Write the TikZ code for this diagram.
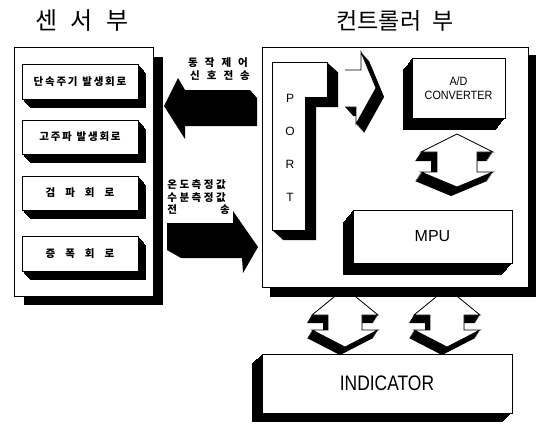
\documentclass[tikz,border=0pt]{standalone}
\usepackage{graphicx}
\usepackage{fontspec}
\setmainfont{Liberation Sans}
\newfontfamily\kr{Noto Sans CJK KR}
\newcommand\extrude[3]{\foreach \t in {0,0.05,...,1.001}{\fill[black,shift={({\t*(#1)},{\t*(#2)})}] #3;}}
\newcommand\tbox[9]{\extrude{#6}{#7}{(#2,#3) rectangle (#4,#5)}%
  \node[face,font=#8,minimum width={(#4)-(#2)},minimum height={(#5)-(#3)}] (#1) at ({((#2)+(#4))/2},{((#3)+(#5))/2}) {#9};}
\newcommand\dblarrow[9]{%
  \def\dapath{({#1},{#2}) -- ({#1+#4},{#2+#6}) -- ({#1+#5},{#2+#6}) -- ({#1+#5},{#3-#7}) -- ({#1+#4},{#3-#7}) -- ({#1},{#3}) -- ({#1-#4},{#3-#7}) -- ({#1-#5},{#3-#7}) -- ({#1-#5},{#2+#6}) -- ({#1-#4},{#2+#6}) -- cycle}%
  \extrude{#8}{#9}{\dapath}%
  \draw[fill=white,line width=0.8pt] \dapath;}
\begin{document}
\begin{tikzpicture}[x=1pt,y=-1pt,line width=0.8pt,
  face/.style={draw=black,fill=white,line width=0.8pt,inner sep=0pt,align=center},
  lbl/.style={inner sep=0pt,font=\kr\bfseries\fontsize{10.5}{12}\selectfont},
  portl/.style={inner sep=0pt,font=\fontsize{12}{12}\selectfont}]
\useasboundingbox (0,0) rectangle (537,423);
% titles
\node[font=\kr\fontsize{24}{24}\selectfont] (t1) at (82,21) {센\hspace{13pt}서\hspace{13pt}부};
\node[font=\kr\fontsize{23}{23}\selectfont] (t2) at (395,21) {컨트롤러\hspace{11pt}부};
% sensor box
\fill (24,57) rectangle (163,305);
\node[face,minimum width=139,minimum height=249] (sensor) at (83.5,171.5) {};
\tbox{b1}{22}{64}{138}{99}{8}{9}{\kr\bfseries\fontsize{10.5}{12}\selectfont}{단\,속\,주\,기\ \ 발\,생\,회\,로}
\tbox{b2}{22}{120}{138}{154}{8}{9}{\kr\bfseries\fontsize{10.5}{12}\selectfont}{고\,주\,파\ \ 발\,생\,회\,로}
\tbox{b3}{22}{176}{138}{210}{8}{9}{\kr\bfseries\fontsize{10.5}{12}\selectfont}{검\hspace{10pt}파\hspace{10pt}회\hspace{10pt}로}
\tbox{b4}{22}{236}{138}{271}{8}{9}{\kr\bfseries\fontsize{10.5}{12}\selectfont}{증\hspace{10pt}폭\hspace{10pt}회\hspace{10pt}로}
% bottom double arrows (behind controller)
\dblarrow{345}{288}{347}{33}{17}{27}{17}{-5}{8}
\dblarrow{447}{288}{347}{33}{17}{27}{17}{-5}{8}
% controller box
\fill (270,55) rectangle (536,297);
\node[face,minimum width=266,minimum height=240] (ctrl) at (395,167) {};
% PORT
\def\portpath{(272,62) -- (327,62) -- (327,97) -- (305,97) -- (305,230) -- (272,230) -- cycle}
\extrude{11}{10}{\portpath}
\draw[fill=white] \portpath;
\node[portl] (pP) at (290,98) {P};
\node[portl] (pO) at (290,131) {O};
\node[portl] (pR) at (290,164) {R};
\node[portl] (pT) at (290,197) {T};
% port -> A/D arrow
\def\parr{(345,70) -- (361,70) -- (361,52) -- (376,88) -- (356,124) -- (356,107) -- (345,107) -- cycle}
\extrude{8}{9}{\parr}
\fill[white] \parr;
\draw (345,70) -- (361,70) -- (361,52) -- (376,88) -- (356,124) -- (356,107) -- (345,107);
% A/D
\tbox{ad}{412}{58}{505}{118}{-9}{12}{\fontsize{12}{14}\selectfont}{\scalebox{0.9}[1]{A/D}\\\scalebox{0.9}[1]{CONVERTER}}
% A/D <-> MPU
\dblarrow{457}{134}{187}{36}{20}{18}{15}{-6}{9}
% MPU
\tbox{mpu}{353}{210}{512}{263}{-10}{12}{\fontsize{16}{16}\selectfont}{MPU}
% INDICATOR
\tbox{ind}{262}{354}{512}{413}{-10}{9}{\fontsize{21}{21}\selectfont}{\scalebox{0.83}[1]{INDICATOR}}
% big arrows
\fill (164,106) -- (178,78) -- (185,90) -- (250,90) -- (257,98) -- (257,126) -- (185,126) -- (185,139) -- cycle;
\fill (167,223) -- (233,223) -- (233,211) -- (258,247) -- (243,273) -- (242,258) -- (181,258) -- (167,250) -- cycle;
% labels
\node[lbl] (la1) at (218,63) {동\hspace{7pt}작\hspace{7pt}제\hspace{7pt}어};
\node[lbl] (la2) at (220,76) {신\hspace{7pt}호\hspace{7pt}전\hspace{7pt}송};
\node[lbl,anchor=west] (lb1) at (167,185) {온\hspace{2.5pt}도\hspace{2.5pt}측\hspace{2.5pt}정\hspace{2.5pt}값};
\node[lbl,anchor=west] (lb2) at (167,197.5) {수\hspace{2.5pt}분\hspace{2.5pt}측\hspace{2.5pt}정\hspace{2.5pt}값};
\node[lbl,anchor=west] (lb3) at (167,210) {전\hspace{43pt}송};
\end{tikzpicture}
\end{document}
